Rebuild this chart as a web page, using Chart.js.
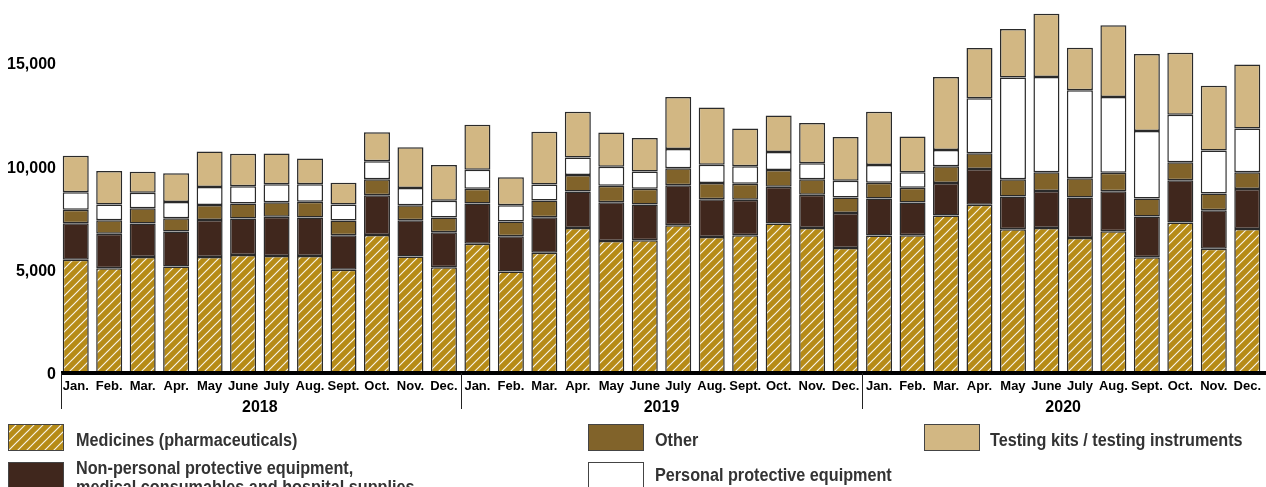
<!DOCTYPE html>
<html><head><meta charset="utf-8">
<script src="https://cdn.jsdelivr.net/npm/chart.js@4.4.0/dist/chart.umd.min.js"></script>
<style>html,body{margin:0;padding:0;background:#fff;overflow:hidden}#wrap{position:relative;width:1266px;height:487px}</style>
</head><body><div id="wrap"><canvas id="c" width="1266" height="487"></canvas></div>
<script>
const monthNames = ['Jan.','Feb.','Mar.','Apr.','May','June','July','Aug.','Sept.','Oct.','Nov.','Dec.'];
const years = ['2018','2019','2020'];
const categories = years.flatMap(y => monthNames.map(m => m));
const yTicks = [0, 5000, 10000, 15000];
const seriesNames = ['Medicines (pharmaceuticals)', 'Non-personal protective equipment,\nmedical consumables and hospital supplies', 'Other', 'Personal protective equipment', 'Testing kits / testing instruments'];
const medicines = [5560,5150,5690,5235,5690,5790,5740,5740,5075,6760,5720,5200, 6340,4990,5900,7100,6470,6500,7230,6660,6745,7315,7100,6125, 6730,6745,7705,8220,7040,7100,6615,6940,5675,7365,6095,7050];
const nonPpe = [1770,1675,1625,1690,1790,1770,1900,1870,1670,1920,1755,1690, 1950,1705,1725,1770,1870,1740,1935,1835,1720,1780,1605,1705, 1800,1590,1575,1740,1590,1790,1965,1935,1980,2045,1865,1935];
const other = [650,650,745,650,730,730,700,760,715,780,730,715, 710,715,800,795,810,760,830,780,780,815,750,750, 760,715,815,765,830,910,925,905,875,875,815,815];
const ppe = [850,765,745,780,875,830,875,850,780,875,830,810, 925,795,780,845,910,830,925,890,845,875,780,810, 860,745,780,2660,4935,4610,4265,3670,3265,2305,2075,2125];
const testing = [1770,1625,1020,1400,1720,1575,1495,1250,1055,1400,1980,1740, 2175,1350,2560,2225,1670,1625,2530,2775,1830,1770,1950,2115, 2580,1740,3535,2435,2340,3070,2065,3470,3730,3005,3135,3100];

const GOLD = '#B68B17', DARK = '#40271D', OTHER = '#81632A', TAN = '#D2B783', EDGE = '#2a2a2a';

function hatch() {
  const s = 9, cv = document.createElement('canvas');
  cv.width = s; cv.height = s;
  const g = cv.getContext('2d');
  g.fillStyle = GOLD; g.fillRect(0, 0, s, s);
  g.strokeStyle = 'rgba(255,255,255,0.9)'; g.lineWidth = 1.2;
  g.beginPath();
  g.moveTo(-1, s + 1); g.lineTo(s + 1, -1);
  g.moveTo(-1, 1); g.lineTo(1, -1);
  g.moveTo(s - 1, s + 1); g.lineTo(s + 1, s - 1);
  g.stroke();
  return g.createPattern(cv, 'repeat');
}
const hatchPattern = hatch();
const fills = [hatchPattern, DARK, OTHER, '#ffffff', TAN];
const values = [medicines, nonPpe, other, ppe, testing];

const overlay = {
  id: 'overlay',
  afterDraw(chart) {
    const ctx = chart.ctx, x = chart.scales.x, ca = chart.chartArea;
    ctx.save();
    // axis line
    ctx.fillStyle = '#000';
    ctx.fillRect(ca.left + 2, 371, 1266 - ca.left - 2, 4);
    // separators
    ctx.strokeStyle = '#222'; ctx.lineWidth = 1;
    const seps = [ca.left + 2.5];
    for (let i = 1; i < years.length; i++) seps.push(Math.round((x.getPixelForValue(12 * i - 1) + x.getPixelForValue(12 * i)) / 2) + 0.5);
    seps.forEach(sx => { ctx.beginPath(); ctx.moveTo(sx, 373); ctx.lineTo(sx, 409); ctx.stroke(); });
    // year labels
    ctx.fillStyle = '#000'; ctx.font = 'bold 16px "Liberation Sans", Arial, sans-serif';
    ctx.textAlign = 'center'; ctx.textBaseline = 'middle';
    years.forEach((y, i) => {
      const cx = (x.getPixelForValue(12 * i) + x.getPixelForValue(12 * i + 11)) / 2;
      ctx.fillText(y, cx, 408);
    });
    // legend
    const items = [
      { sx: 8, sy: 424, tx: 76, ty: 445.5, k: 0 },
      { sx: 8, sy: 462, tx: 76, ty: 473.5, k: 1 },
      { sx: 588, sy: 424, tx: 655, ty: 445.5, k: 2 },
      { sx: 588, sy: 462, tx: 655, ty: 481, k: 3 },
      { sx: 924, sy: 424, tx: 990, ty: 445.5, k: 4 }
    ];
    ctx.textAlign = 'left'; ctx.textBaseline = 'alphabetic';
    ctx.font = 'bold 18px "Liberation Sans", Arial, sans-serif';
    items.forEach(it => {
      ctx.fillStyle = fills[it.k];
      ctx.fillRect(it.sx, it.sy, 56, 27);
      ctx.strokeStyle = '#444'; ctx.lineWidth = 1;
      ctx.strokeRect(it.sx + 0.5, it.sy + 0.5, 55, 26);
      ctx.fillStyle = '#333';
      seriesNames[it.k].split('\n').forEach((ln, j) => {
        ctx.save();
        ctx.translate(it.tx, it.ty + j * 19);
        ctx.scale(0.9, 1);
        ctx.fillText(ln, 0, 0);
        ctx.restore();
      });
    });
    ctx.restore();
  }
};

new Chart(document.getElementById('c'), {
  type: 'bar',
  data: {
    labels: categories,
    datasets: values.map((v, k) => ({
      label: seriesNames[k], data: v, backgroundColor: fills[k],
      borderColor: EDGE, borderWidth: 1.5, borderSkipped: false,
      barPercentage: 0.777, categoryPercentage: 1
    }))
  },
  options: {
    responsive: false, animation: false, devicePixelRatio: 1,
    layout: { padding: { top: 3, right: 2, left: 0, bottom: 0 } },
    plugins: { legend: { display: false }, tooltip: { enabled: false } },
    scales: {
      x: {
        stacked: true,
        grid: { display: false, drawTicks: false }, border: { display: false },
        ticks: { color: '#000', autoSkip: false, maxRotation: 0, padding: 4,
          font: { family: '"Liberation Sans", Arial, sans-serif', weight: 'bold', size: 13 } },
        afterFit(s) { s.height = 112.5; s.paddingLeft = 0; s.paddingRight = 0; }
      },
      y: {
        stacked: true, min: 0, max: 18000,
        grid: { display: false, drawTicks: false }, border: { display: false },
        ticks: { color: '#000', padding: 3, stepSize: 5000,
          font: { family: '"Liberation Sans", Arial, sans-serif', weight: 'bold', size: 16 },
          callback: v => v.toLocaleString('en-US') },
        afterBuildTicks(s) { s.ticks = yTicks.map(v => ({ value: v })); },
        afterFit(s) { s.width = 59; s.paddingTop = 0; s.paddingBottom = 0; }
      }
    }
  },
  plugins: [overlay]
});
</script></body></html>
